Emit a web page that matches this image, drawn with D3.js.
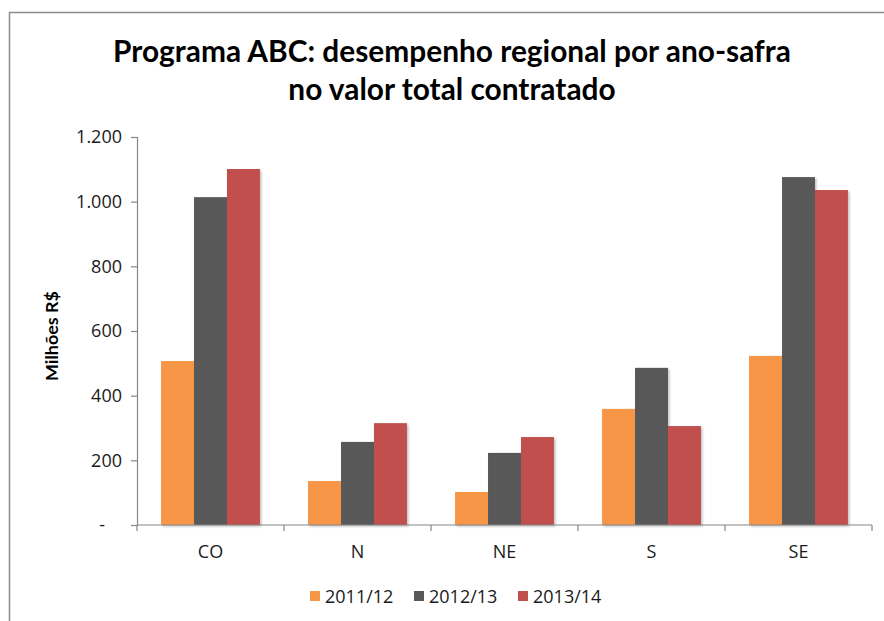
<!DOCTYPE html>
<html>
<head>
<meta charset="utf-8">
<script src="https://cdn.jsdelivr.net/npm/d3@7"></script>
<style>
  html, body { margin: 0; padding: 0; background: #fff; }
  svg { display: block; font-family: "Open Sans", sans-serif; }
</style>
</head>
<body>
<div id="chart"></div>
<script>
const regions = ["CO", "N", "NE", "S", "SE"];
const seasons = ["2011/12", "2012/13", "2013/14"];
const values2011 = [507, 136, 102, 359, 523];
const values2012 = [1014, 257, 223, 486, 1076];
const values2013 = [1101, 315, 272, 306, 1036];
const yTicks = [0, 200, 400, 600, 800, 1000, 1200];
const colors = ["#F79646", "#595959", "#C0504D"];

const width = 884, height = 621;
const plot = {left: 137, right: 872, top: 137, bottom: 525};

const series = [values2011, values2012, values2013];
const rows = regions.map((r, i) => ({region: r, vals: series.map((s, k) => ({key: seasons[k], value: s[i]}))}));

const svg = d3.select("#chart").append("svg")
    .attr("width", width)
    .attr("height", height);

const defs = svg.append("defs");
const shadow = defs.append("filter").attr("id", "shadow")
    .attr("x", "-20%").attr("y", "-20%").attr("width", "150%").attr("height", "150%");
shadow.append("feDropShadow")
    .attr("dx", 1.5).attr("dy", 1.5).attr("stdDeviation", 1)
    .attr("flood-color", "#000").attr("flood-opacity", 0.25);

// outer frame (cut off on right and bottom like the original)
svg.append("rect")
    .attr("x", 9.5).attr("y", 12.5)
    .attr("width", 900).attr("height", 700)
    .attr("fill", "none").attr("stroke", "#8c8c8c").attr("stroke-width", 1.5);

// scale font so the text gets the wanted width
function fitText(sel, target) {
    const len = sel.node().getComputedTextLength();
    const fs = parseFloat(sel.attr("font-size"));
    sel.attr("font-size", fs * target / len);
}
const t1 = svg.append("text")
    .attr("x", 452).attr("y", 62)
    .attr("text-anchor", "middle")
    .attr("font-family", "Lato, sans-serif")
    .attr("font-size", 28).attr("font-weight", "bold").attr("fill", "#000")
    .text("Programa ABC: desempenho regional por ano-safra");
fitText(t1, 678);
svg.append("text")
    .attr("x", 452).attr("y", 100)
    .attr("text-anchor", "middle")
    .attr("font-family", "Lato, sans-serif")
    .attr("font-size", t1.attr("font-size")).attr("font-weight", "bold").attr("fill", "#000")
    .text("no valor total contratado");

/* Scales */
const x0 = d3.scaleBand()
    .domain(regions)
    .range([plot.left, plot.right])
    .paddingInner(0).paddingOuter(0);

const x1 = d3.scaleBand()
    .domain(seasons)
    .range([0, x0.bandwidth()])
    .paddingInner(0)
    .paddingOuter(0.73);

const y = d3.scaleLinear()
    .domain([0, 1200])
    .range([plot.bottom, plot.top]);

/* Axes */
const fmt = d3.formatLocale({decimal: ",", thousands: ".", grouping: [3], currency: ["R$", ""]}).format(",.0f");

const yAxis = svg.append("g")
    .attr("transform", `translate(${plot.left},0)`)
    .call(d3.axisLeft(y).tickValues(yTicks).tickSize(6).tickPadding(9)
        .tickFormat(d => d === 0 ? "-" : fmt(d)));
yAxis.select(".domain").attr("stroke", "#868686").attr("stroke-width", 1.2);
yAxis.selectAll(".tick line").attr("stroke", "#868686").attr("stroke-width", 1.2);
yAxis.selectAll(".tick text")
    .attr("font-size", 18).attr("fill", "#1a1a1a").attr("font-family", "'Open Sans', sans-serif")
    .attr("x", d => d === 0 ? -32 : -15);

// bars
const groups = svg.append("g").selectAll("g")
    .data(rows).enter().append("g")
    .attr("transform", d => `translate(${x0(d.region)},0)`);
groups.selectAll("rect")
    .data(d => d.vals).enter().append("rect")
    .attr("x", d => x1(d.key))
    .attr("y", d => y(d.value))
    .attr("width", x1.bandwidth())
    .attr("height", d => y(0) - y(d.value))
    .attr("fill", (d, i) => colors[i])
    .attr("filter", "url(#shadow)");

const xAxis = svg.append("g")
    .attr("transform", `translate(0,${plot.bottom})`)
    .call(d3.axisBottom(x0).tickSize(0).tickPadding(20));
xAxis.select(".domain").attr("stroke", "#868686").attr("stroke-width", 1.2)
    .attr("d", `M${plot.left},0H${plot.right}`);
xAxis.selectAll(".tick text")
    .attr("font-size", 18).attr("fill", "#1a1a1a").attr("font-family", "'Open Sans', sans-serif");
// category boundary ticks
xAxis.selectAll(".bound")
    .data(d3.range(regions.length + 1)).enter().append("line")
    .attr("class", "bound")
    .attr("x1", i => plot.left + i * x0.step())
    .attr("x2", i => plot.left + i * x0.step())
    .attr("y1", 0).attr("y2", 6)
    .attr("stroke", "#868686").attr("stroke-width", 1.2);

// y label
const yl = svg.append("text")
    .attr("transform", "translate(58,336) rotate(-90)")
    .attr("text-anchor", "middle")
    .attr("font-family", "Lato, sans-serif")
    .attr("font-size", 16).attr("font-weight", "bold").attr("fill", "#000")
    .text("Milhões R$");
fitText(yl, 90);

// legend
const legendX = [310, 414, 518];
const legend = svg.append("g").selectAll("g")
    .data(seasons).enter().append("g")
    .attr("transform", (d, i) => `translate(${legendX[i]},596)`);
legend.append("rect")
    .attr("x", 0).attr("y", -5).attr("width", 10).attr("height", 10)
    .attr("fill", (d, i) => colors[i]);
legend.append("text")
    .attr("x", 15).attr("y", 7)
    .attr("font-size", 18).attr("fill", "#1a1a1a")
    .text(d => d);
</script>
</body>
</html>
